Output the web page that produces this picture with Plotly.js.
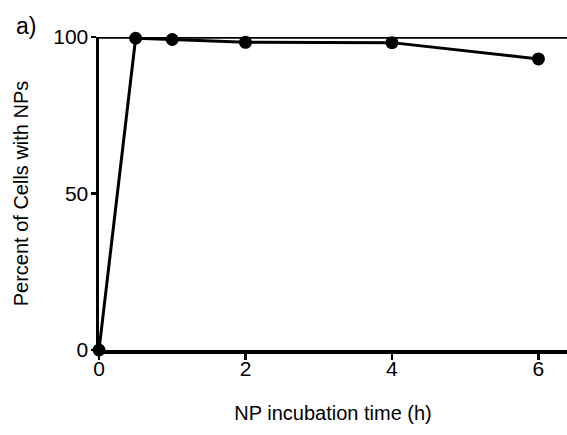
<!DOCTYPE html>
<html><head><meta charset="utf-8">
<script src="https://cdn.plot.ly/plotly-3.0.1.min.js"></script>
<style>body{margin:0;background:#fff}#c{width:567px;height:435px}</style>
</head><body><div id="c"></div>
<script>
const timeH = [0, 0.5, 1, 2, 4, 6];
const percentCells = [0, 99.6, 99.2, 98.3, 98.2, 93.0];
const xTicks = [0, 2, 4, 6];
const yTicks = [0, 50, 100];

const font = "Liberation Sans, Arial, sans-serif";
Plotly.newPlot('c', [{
  x: timeH, y: percentCells, type: 'scatter', mode: 'lines+markers',
  line: {color: '#000', width: 3},
  marker: {color: '#000', size: 13},
  cliponaxis: false, showlegend: false
}], {
  width: 567, height: 435,
  margin: {l: 99, r: 0, t: 37, b: 85},
  paper_bgcolor: '#fff', plot_bgcolor: '#fff',
  font: {family: font, color: '#000', size: 21},
  xaxis: {range: [0, 6.39], tickvals: xTicks, ticktext: xTicks.map(String),
    showgrid: false, zeroline: false, showline: true, linewidth: 3.5, linecolor: '#000',
    ticks: 'outside', ticklen: 6, tickwidth: 2.5, tickcolor: '#000',
    ticklabelstandoff: -9,
    tickfont: {size: 21, family: font},
    title: {text: 'NP incubation time (h)', font: {size: 20, family: font}, standoff: 28}},
  yaxis: {range: [0, 100], tickvals: yTicks, ticktext: yTicks.map(String),
    showgrid: false, zeroline: false, showline: true, linewidth: 3.5, linecolor: '#000',
    ticks: 'outside', ticklen: 5, tickwidth: 2.5, tickcolor: '#000',
    ticklabelstandoff: -2,
    tickfont: {size: 21, family: font},
    title: {text: 'Percent of Cells with NPs', font: {size: 20, family: font}, standoff: 20}},
  shapes: [{type: 'line', xref: 'paper', yref: 'y', x0: 0, x1: 1, y0: 100, y1: 100,
    line: {color: '#000', width: 3.5}}],
  annotations: [{text: 'a)', xref: 'paper', yref: 'paper', x: -0.182, y: 1.035,
    xanchor: 'left', yanchor: 'middle', showarrow: false, font: {size: 23, family: font}}]
}, {staticPlot: true});
</script></body></html>
